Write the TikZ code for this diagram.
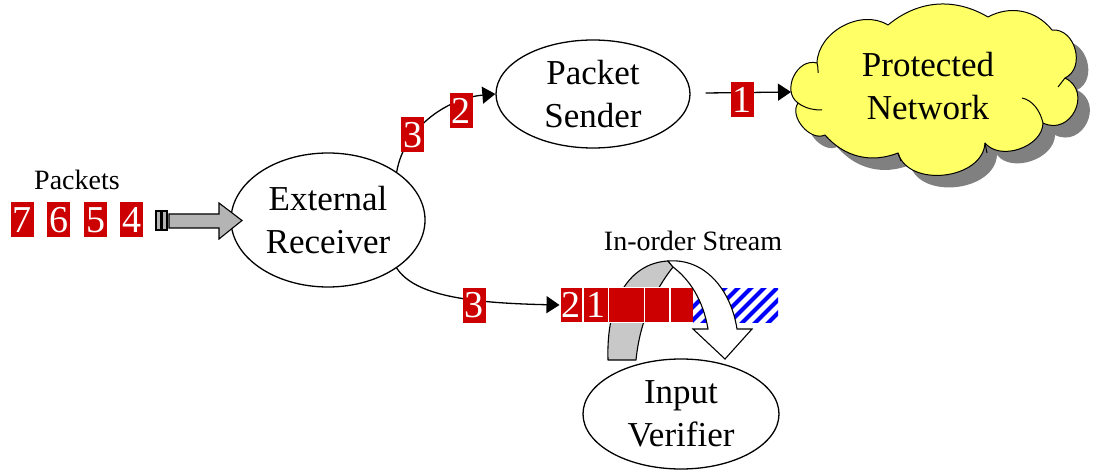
\documentclass[tikz,border=0pt]{standalone}
\usepackage{fontspec}
\setmainfont{Liberation Serif}
\usetikzlibrary{shapes.geometric,arrows.meta,calc}
\definecolor{pkred}{HTML}{CC0000}
\definecolor{cloudyel}{HTML}{FFFF66}
\definecolor{shadowgray}{HTML}{808080}
\definecolor{arrgray}{HTML}{B4B4B4}
\definecolor{bandgray}{HTML}{C8C8C8}
\begin{document}
\begin{tikzpicture}[x=1pt,y=-1pt,
  pk/.style={fill=pkred,text=white,inner sep=0pt,minimum width=23pt,minimum height=35pt,
    font=\fontsize{38}{38}\selectfont},
  cell/.style={fill=pkred,draw=white,line width=1pt,inner sep=0pt,minimum height=35pt,
    text=white,font=\fontsize{38}{38}\selectfont},
  proc/.style={ellipse,draw,line width=1.3pt,fill=white,inner sep=0pt,align=center,
    font=\fontsize{35}{43}\selectfont},
  small/.style={font=\fontsize{28}{30}\selectfont,inner sep=0pt},
  conn/.style={line width=1.3pt,-{Triangle[length=13pt,width=17pt]}}
]
\useasboundingbox (0,0) rectangle (1094,470);

% packets
\node[small] (lbl) at (77,180) {Packets};
\node[pk] (p7) at (22,220) {7};
\node[pk] (p6) at (58.5,220) {6};
\node[pk] (p5) at (95.5,220) {5};
\node[pk] (p4) at (131.5,220) {4};

% external receiver
\node[proc,minimum width=194pt,minimum height=134pt] (er) at (328,220) {External\\Receiver};

% block arrow into receiver
\draw[line width=1.1pt,fill=arrgray] (156,211) rectangle (160.5,230);
\draw[line width=1.1pt,fill=arrgray] (162,211) rectangle (167,230);
\draw[line width=1.1pt,fill=arrgray,line join=miter]
  (169,214) -- (219,214) -- (219,203) -- (242,220.5) -- (219,239) -- (219,228) -- (169,228) -- cycle;

% packet sender
\node[proc,minimum width=194pt,minimum height=108pt] (ps) at (593,94) {Packet\\Sender};

% cloud
\coordinate (c0) at (798,103);
\coordinate (c1) at (817,63);
\coordinate (c2) at (888,25);
\coordinate (c3) at (988,17);
\coordinate (c4) at (1052,30);
\coordinate (c5) at (1065,78);
\coordinate (c6) at (1043,123);
\coordinate (c7) at (985,143);
\coordinate (c8) at (898,153);
\coordinate (c9) at (825,135);
\path[draw,line width=1pt,fill=cloudyel,line join=round,
  preaction={fill=shadowgray,transform canvas={shift={(12pt,-12pt)}}}]
  (c0) .. controls ($(c0)!0.47!80:(c1)$) and ($(c1)!0.47!-80:(c0)$) .. (c1)
       .. controls ($(c1)!0.39!60:(c2)$) and ($(c2)!0.39!-60:(c1)$) .. (c2)
       .. controls ($(c2)!0.39!35:(c3)$) and ($(c3)!0.39!-35:(c2)$) .. (c3)
       .. controls ($(c3)!0.39!40:(c4)$) and ($(c4)!0.39!-40:(c3)$) .. (c4)
       .. controls ($(c4)!0.47!80:(c5)$) and ($(c5)!0.47!-80:(c4)$) .. (c5)
       .. controls ($(c5)!0.62!90:(c6)$) and ($(c6)!0.62!-90:(c5)$) .. (c6)
       .. controls ($(c6)!0.39!70:(c7)$) and ($(c7)!0.39!-70:(c6)$) .. (c7)
       .. controls ($(c7)!0.42!80:(c8)$) and ($(c8)!0.42!-80:(c7)$) .. (c8)
       .. controls ($(c8)!0.39!35:(c9)$) and ($(c9)!0.39!-35:(c8)$) .. (c9)
       .. controls ($(c9)!0.39!75:(c0)$) and ($(c0)!0.39!-75:(c9)$) .. (c0) -- cycle;
\draw[line width=1pt] (c0) .. controls (806,109) and (815,110) .. (822,110);
\draw[line width=1pt] (c1) .. controls (818,67) .. (818,73);
\draw[line width=1pt] (c5) .. controls (1062,82) .. (1058,87);
\draw[line width=1pt] (c6) .. controls (1040,110) and (1032,100) .. (1022,98);
\draw[line width=1pt] (c7) .. controls (986,148) .. (987,153);
\draw[line width=1pt] (c8) .. controls (899,157) .. (901,161);
\node[align=center,inner sep=0pt,font=\fontsize{35}{43}\selectfont] (net) at (928,86) {Protected\\Network};
\coordinate (netw) at (791,92);

% input verifier
\node[proc,minimum width=196pt,minimum height=110pt] (iv) at (681,414) {Input\\Verifier};

% gray back band of curved arrow
\draw[line width=1.1pt,fill=bandgray,line join=round]
  (608,360) .. controls (606,300) and (630,263) .. (668,261) -- (673,267)
  .. controls (655,290) and (640,320) .. (636,360) -- cycle;

% queue
\node[cell,minimum width=22pt] (q2) at (571,305) {2};
\node[cell,minimum width=25pt] (q1) at (595.5,305) {1};
\node[cell,minimum width=36pt] (q3) at (626,305) {};
\node[cell,minimum width=25pt] (q4) at (657,305) {};
\node[cell,minimum width=23pt] (q5) at (681.5,305) {};
\begin{scope}
  \clip (693,288) rectangle (778,322);
  \foreach \i in {0,...,9}
    \draw[blue,line width=4pt] (670+\i*13,330) -- ++(50,-50);
\end{scope}
\node[small] (stream) at (693,241) {In-order Stream};

% white front band of curved arrow
\draw[line width=1.1pt,fill=white,line join=miter]
  (668,261) .. controls (705,258) and (731,290) .. (737,329) -- (752,329) -- (725,359)
  -- (693,329) -- (708,329) .. controls (703,300) and (690,280) .. (673,267) -- cycle;

% connectors
\draw[conn] (er.35) .. controls (405,125) and (450,98) .. (ps.west);
\node[pk] (u3) at (412.5,135) {3};
\node[pk] (u2) at (461,110.5) {2};

\draw[conn] (er.-35) .. controls (415,296) and (470,303) .. (q2.west);
\node[pk] (l3) at (474,305.5) {3};

\draw[conn] ([xshift=15pt,yshift=1pt]ps.east) -- (netw);
\node[pk] (o1) at (742,100) {1};
\end{tikzpicture}
\end{document}
